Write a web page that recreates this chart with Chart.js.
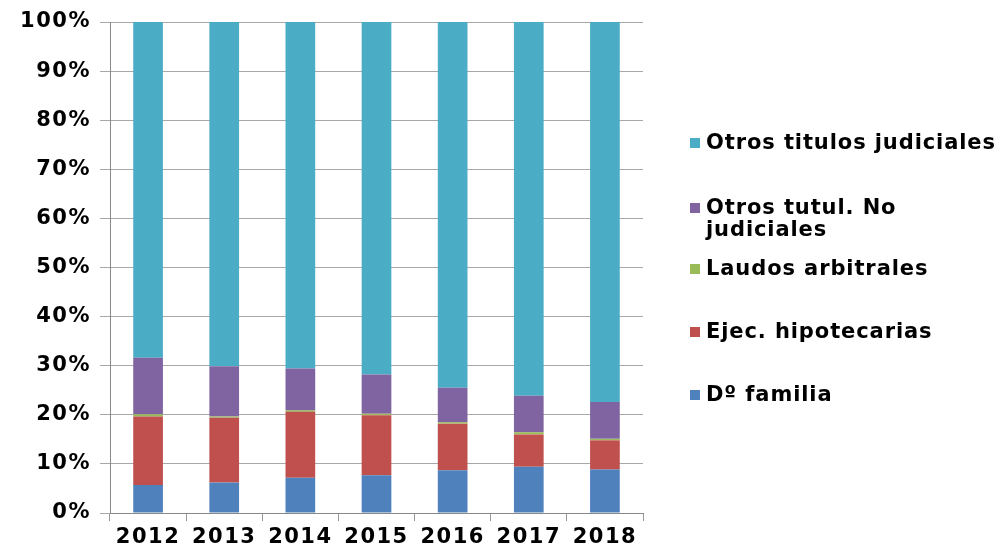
<!DOCTYPE html>
<html>
<head>
<meta charset="utf-8">
<script src="https://cdn.jsdelivr.net/npm/chart.js@4/dist/chart.umd.min.js"></script>
<style>
  html, body { margin: 0; padding: 0; background: #fff; }
  #wrap { width: 1000px; height: 547px; }
</style>
</head>
<body>
<div id="wrap"><canvas id="chart" width="1000" height="547"></canvas></div>
<script>
const years = ['2012', '2013', '2014', '2015', '2016', '2017', '2018'];
const seriesNames = ['Dº familia', 'Ejec. hipotecarias', 'Laudos arbitrales', 'Otros tutul. No judiciales', 'Otros titulos judiciales'];
const familia      = [5.7, 6.2, 7.2, 7.7, 8.7, 9.4, 8.85];
const hipotecarias = [13.95, 13.2, 13.4, 12.2, 9.5, 6.6, 5.95];
const laudos       = [0.45, 0.25, 0.3, 0.3, 0.3, 0.45, 0.3];
const noJudiciales = [11.5, 10.25, 8.55, 8.0, 7.0, 7.45, 7.5];
const judiciales   = [68.4, 70.1, 70.55, 71.8, 74.5, 76.1, 77.4];
const yTicks = [0, 10, 20, 30, 40, 50, 60, 70, 80, 90, 100];

const colors = ['#4F81BD', '#C0504D', '#9BBB59', '#8064A2', '#4BACC6'];
const FONT = '"DejaVu Sans", Verdana, sans-serif';
const axisFont = { family: FONT, size: 21, weight: 'bold' };

// original text is Verdana-wide, open DejaVu up a little
const wideText = {
  id: 'wideText',
  beforeUpdate(chart) { chart.ctx.letterSpacing = '1.5px'; },
  beforeDraw(chart) { chart.ctx.letterSpacing = '1.5px'; }
};

// legend drawn on the right, top item = last series (Excel style)
const sideLegend = {
  id: 'sideLegend',
  afterDraw(chart) {
    const ctx = chart.ctx;
    const rows = [143, 208, 269, 332, 395];
    const ds = chart.data.datasets.slice().reverse();
    ctx.save();
    ctx.font = 'bold 21px ' + FONT;
    ctx.letterSpacing = '0.9px';
    ctx.textBaseline = 'middle';
    ds.forEach((d, i) => {
      const y = rows[i];
      ctx.fillStyle = d.backgroundColor;
      ctx.fillRect(690, y - 5, 10, 10);
      ctx.fillStyle = '#000';
      // simple word wrap
      const words = d.label.split(' ');
      let line = '', lines = [];
      words.forEach(w => {
        const t = line ? line + ' ' + w : w;
        if (ctx.measureText(t).width > 298 && line) { lines.push(line); line = w; } else line = t;
      });
      lines.push(line);
      lines.forEach((l, k) => ctx.fillText(l, 706, y + 1 + k * 22));
    });
    ctx.restore();
  }
};

const series = [familia, hipotecarias, laudos, noJudiciales, judiciales];

new Chart(document.getElementById('chart'), {
  type: 'bar',
  data: {
    labels: years,
    datasets: series.map((s, i) => ({
      label: seriesNames[i],
      data: s,
      backgroundColor: colors[i],
      borderWidth: 0,
      categoryPercentage: 1,
      barPercentage: 0.39
    }))
  },
  options: {
    responsive: false,
    animation: false,
    devicePixelRatio: 1,
    layout: { padding: { top: 22, right: 357, left: 0, bottom: 0 } },
    plugins: { legend: { display: false }, tooltip: { enabled: false } },
    scales: {
      x: {
        stacked: true,
        afterFit(scale) { scale.height = 34; },
        grid: { offset: true, drawOnChartArea: false, tickLength: 8, color: '#999' },
        border: { color: '#888' },
        ticks: { color: '#000', padding: 4, font: axisFont }
      },
      y: {
        stacked: true,
        min: 0, max: 100,
        afterFit(scale) { scale.width = 110; },
        afterBuildTicks(scale) { scale.ticks = yTicks.map(v => ({ value: v })); },
        grid: { color: '#a8a8a8', tickLength: 10 },
        border: { color: '#888' },
        ticks: { color: '#000', padding: 9, font: axisFont, callback: v => v + '%' }
      }
    }
  },
  plugins: [wideText, sideLegend]
});
</script>
</body>
</html>
